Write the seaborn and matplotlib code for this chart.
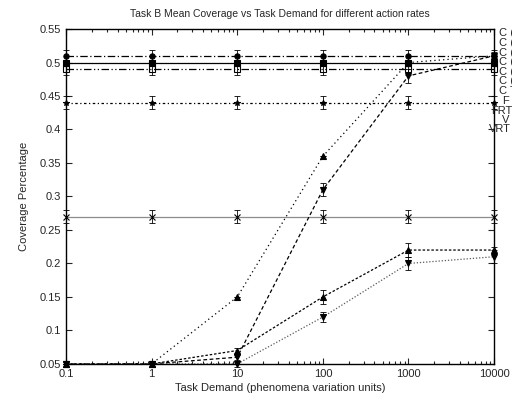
import numpy as np
import pandas as pd
import matplotlib
matplotlib.use('Agg')
import matplotlib.pyplot as plt
from matplotlib.ticker import LogLocator, FixedLocator, NullFormatter
import seaborn as sns

# Data
demand = [0.1, 1, 10, 100, 1000, 10000]

c_a = [0.51, 0.51, 0.51, 0.51, 0.51, 0.51]
c_b = [0.50, 0.50, 0.50, 0.50, 0.50, 0.50]
c_c = [0.49, 0.49, 0.49, 0.49, 0.49, 0.49]
c_d = [0.44, 0.44, 0.44, 0.44, 0.44, 0.44]
c_e = [0.27, 0.27, 0.27, 0.27, 0.27, 0.27]
f_tri = [0.05, 0.05, 0.15, 0.36, 0.50, 0.51]
frt_dn = [0.05, 0.05, 0.06, 0.31, 0.48, 0.51]
v_up = [0.05, 0.05, 0.07, 0.15, 0.22, 0.22]
vrt_dn = [0.05, 0.05, 0.05, 0.12, 0.20, 0.21]

err_a = [0.008, 0.008, 0.008, 0.008, 0.008, 0.008]
err_b = [0.004, 0.004, 0.004, 0.004, 0.004, 0.004]
err_c = [0.008, 0.008, 0.008, 0.008, 0.008, 0.008]
err_d = [0.01, 0.01, 0.01, 0.01, 0.01, 0.01]
err_e = [0.01, 0.01, 0.01, 0.01, 0.01, 0.01]
err_f = [0.0, 0.0, 0.0, 0.0, 0.0, 0.0]
err_frt = [0.0, 0.004, 0.004, 0.01, 0.01, 0.005]
err_v = [0.0, 0.004, 0.004, 0.01, 0.01, 0.005]
err_vrt = [0.0, 0.0, 0.004, 0.008, 0.01, 0.01]

legend_labels = ['C (', 'C (', 'C (', 'C (', 'C (', 'C (', 'C T', 'F', 'FRT', 'V', 'VRT']

series = [
    ('A', c_a, err_a, 'o', 'black', (6, 2, 1, 2), 'black'),
    ('B', c_b, err_b, 's', 'black', '', 'black'),
    ('C', c_c, err_c, 's', 'black', (6, 2, 1, 2, 1, 2), 'none'),
    ('D', c_d, err_d, '*', 'black', (2, 2, 1, 2), 'black'),
    ('E', c_e, err_e, 'x', '0.55', '', 'black'),
    ('F', f_tri, err_f, '^', 'black', (1, 2.5), 'black'),
    ('FRT', frt_dn, err_frt, 'v', 'black', (3, 2), 'black'),
    ('V', v_up, err_v, '^', 'black', (2, 1.5), 'black'),
    ('VRT', vrt_dn, err_vrt, 'v', '0.35', (1, 1.5), 'black'),
]

sns.set_style('ticks')
plt.rcParams['font.family'] = ['Liberation Sans', 'DejaVu Sans']

fig = plt.figure(figsize=(5.12, 4.03), dpi=100)
ax = fig.add_axes([0.129, 0.097, 0.836, 0.831])

for name, vals, errs, mk, col, dash, face in series:
    df = pd.DataFrame({'demand': demand, 'coverage': vals})
    sns.lineplot(data=df, x='demand', y='coverage', ax=ax, color=col, lw=0.9,
                 marker=mk, markersize=3.8, markerfacecolor=face,
                 markeredgecolor='black', markeredgewidth=0.8,
                 estimator=None, sort=False)
    ln = ax.lines[-1]
    if dash:
        ln.set_dashes(dash)
    ln.set_clip_on(False)
    eb = ax.errorbar(demand, vals, yerr=errs, fmt='none', ecolor='black', elinewidth=0.6,
                     capsize=2, capthick=0.6)
    for art in eb.lines[1] + eb.lines[2]:
        art.set_clip_on(False)

ax.set_xscale('log')
ax.set_xlim(0.1, 10000)
ax.set_ylim(0.05, 0.55)
ax.xaxis.set_major_locator(FixedLocator(demand))
ax.set_xticklabels(['0.1', '1', '10', '100', '1000', '10000'])
ax.xaxis.set_minor_locator(LogLocator(base=10, subs=np.arange(2, 10)))
ax.xaxis.set_minor_formatter(NullFormatter())
yt = np.round(np.arange(0.05, 0.551, 0.05), 2)
ax.set_yticks(yt)
ax.set_yticklabels([f'{v:g}' for v in yt])
ax.tick_params(which='both', direction='in', top=True, right=True, labelsize=8, length=4, width=0.8)
ax.tick_params(which='minor', length=2)
for sp in ax.spines.values():
    sp.set_linewidth(1.0)
    sp.set_color('black')

ax.set_xlabel('Task Demand (phenomena variation units)', fontsize=8, labelpad=3)
ax.set_ylabel('Coverage Percentage', fontsize=8, labelpad=8)
ax.set_title('Task B Mean Coverage vs Task Demand for different action rates', fontsize=7.5, pad=9)

# legend text sits outside the right edge and is cut off, as in the original
lx = [499, 499, 499, 499, 499, 499, 499, 502, 491, 502, 489]
ly = [33, 43, 53, 62, 72, 81, 91, 101, 111, 120, 129]
for lab, x, y in zip(legend_labels, lx, ly):
    fig.text(x / 512, 1 - y / 403, lab, fontsize=8, ha='left', va='center')

fig.savefig('out.png', dpi=100)
